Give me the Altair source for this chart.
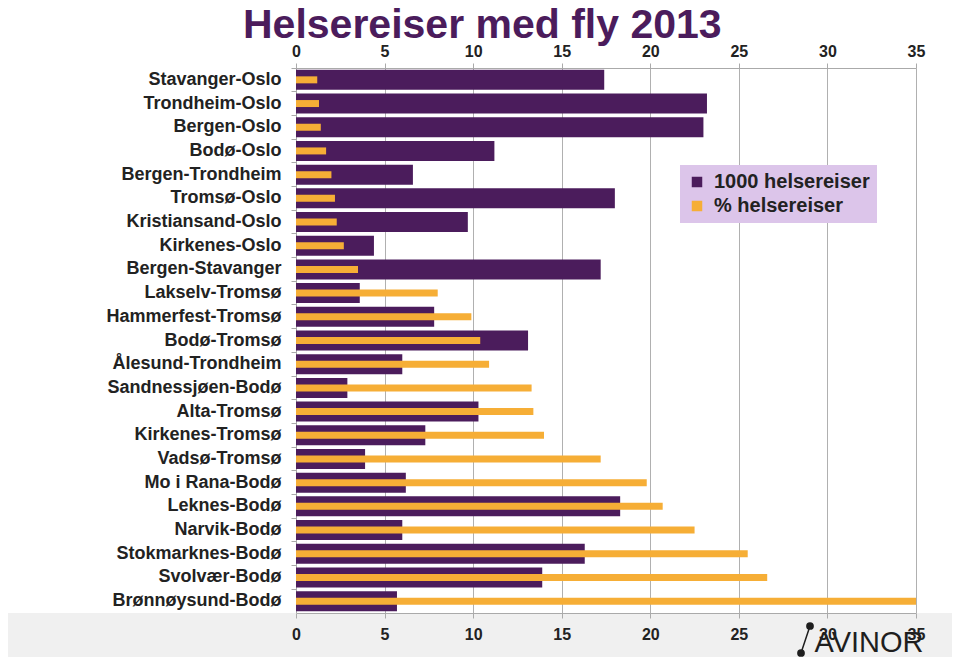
import altair as alt
import pandas as pd

routes = ["Stavanger-Oslo", "Trondheim-Oslo", "Bergen-Oslo", "Bodø-Oslo", "Bergen-Trondheim",
          "Tromsø-Oslo", "Kristiansand-Oslo", "Kirkenes-Oslo", "Bergen-Stavanger", "Lakselv-Tromsø",
          "Hammerfest-Tromsø", "Bodø-Tromsø", "Ålesund-Trondheim", "Sandnessjøen-Bodø", "Alta-Tromsø",
          "Kirkenes-Tromsø", "Vadsø-Tromsø", "Mo i Rana-Bodø", "Leknes-Bodø", "Narvik-Bodø",
          "Stokmarknes-Bodø", "Svolvær-Bodø", "Brønnøysund-Bodø"]
thousand = [17.4, 23.2, 23.0, 11.2, 6.6, 18.0, 9.7, 4.4, 17.2, 3.6, 7.8, 13.1, 6.0, 2.9,
            10.3, 7.3, 3.9, 6.2, 18.3, 6.0, 16.3, 13.9, 5.7]
percent = [1.2, 1.3, 1.4, 1.7, 2.0, 2.2, 2.3, 2.7, 3.5, 8.0, 9.9, 10.4, 10.9, 13.3,
           13.4, 14.0, 17.2, 19.8, 20.7, 22.5, 25.5, 26.6, 35.0]
x_ticks = [0, 5, 10, 15, 20, 25, 30, 35]

TITLE = "Helsereiser med fly 2013"
S1 = "1000 helsereiser"
S2 = "% helsereiser"
PURPLE = "#4b1c5c"
ORANGE = "#f6ae36"

df = pd.DataFrame({"route": routes, S1: thousand, S2: percent})

color_scale = alt.Scale(domain=[S1, S2], range=[PURPLE, ORANGE])
x_scale = alt.Scale(domain=[0, 35], nice=False, zero=True)
y_enc = alt.Y("route:N", sort=routes, title=None,
              scale=alt.Scale(paddingInner=0, paddingOuter=0),
              axis=alt.Axis(labelFontSize=18, labelFont="Liberation Sans", labelFontWeight="bold",
                            labelColor="#222222", labelPadding=10, tickSize=5, bandPosition=0,
                            tickColor="#aaaaaa", domainColor="#aaaaaa"))

axis_common = dict(values=x_ticks, labelFontSize=16,
                   labelFont="Liberation Sans", labelFontWeight="bold",
                   labelColor="#222222", tickColor="#aaaaaa", domainColor="#aaaaaa",
                   tickSize=5, title=None, labelFlush=False)

base = alt.Chart(df)

bg = alt.Chart(pd.DataFrame({"k": [0]})).mark_rect(color="#f0f0f0").encode(
    x=alt.value(-300), x2=alt.value(660), y=alt.value(545), y2=alt.value(620))

purple = base.transform_fold([S1], as_=["series", "value"]).mark_bar(size=20, clip=True).encode(
    x=alt.X("value:Q", scale=x_scale,
            axis=alt.Axis(orient="bottom", grid=False, labelPadding=8, zindex=1, **axis_common)),
    y=y_enc,
    color=alt.Color("series:N", scale=color_scale,
                    legend=alt.Legend(title=None, orient="none", legendX=384, legendY=97,
                                      fillColor="#dcc5ea", padding=7, labelFontSize=20,
                                      labelFont="Liberation Sans", labelFontWeight="bold",
                                      labelColor="#222222", symbolType="square", symbolSize=110,
                                      symbolStrokeWidth=0, rowPadding=4, labelOffset=7)),
)

orange = base.transform_fold([S2], as_=["series", "value"]).mark_bar(size=7, clip=True).encode(
    x=alt.X("value:Q", scale=x_scale,
            axis=alt.Axis(orient="top", grid=True, gridColor="#b0b0b0", labelPadding=4, zindex=0,
                          **axis_common)),
    y=y_enc,
    color=alt.Color("series:N", scale=color_scale),
)

title_df = pd.DataFrame({"t": [TITLE]})
title_mark = alt.Chart(title_df).mark_text(font="Liberation Sans", fontSize=41, fontWeight="bold",
                                           color=PURPLE, align="left", baseline="alphabetic").encode(
    text="t:N", x=alt.value(-53), y=alt.value(-30))

logo_df = pd.DataFrame({"t": ["AVINOR"]})
logo_text = alt.Chart(logo_df).mark_text(font="Liberation Sans", fontSize=29, color="#1e1e1e",
                                        baseline="alphabetic", align="center").encode(
    text="t:N", x=alt.value(573), y=alt.value(584))
logo_line = alt.Chart(logo_df).mark_rule(color="#1e1e1e", strokeWidth=1.5).encode(
    x=alt.value(514), y=alt.value(558), x2=alt.value(505), y2=alt.value(585))
logo_dot1 = alt.Chart(logo_df).mark_circle(color="#1e1e1e", size=60, opacity=1).encode(
    x=alt.value(514), y=alt.value(558))
logo_dot2 = alt.Chart(logo_df).mark_circle(color="#1e1e1e", size=60, opacity=1).encode(
    x=alt.value(505), y=alt.value(585))

chart = alt.layer(bg, purple, orange, title_mark, logo_line, logo_dot1, logo_dot2, logo_text).resolve_axis(
    x="independent").resolve_scale(x="shared").properties(
    width=620, height=545,
    autosize=alt.AutoSizeParams(type="none"),
    padding={"left": 288, "top": 60, "right": 36, "bottom": 44},
).configure_view(stroke=None)

chart.save("out.html", embed_options={"renderer": "svg", "actions": False})
